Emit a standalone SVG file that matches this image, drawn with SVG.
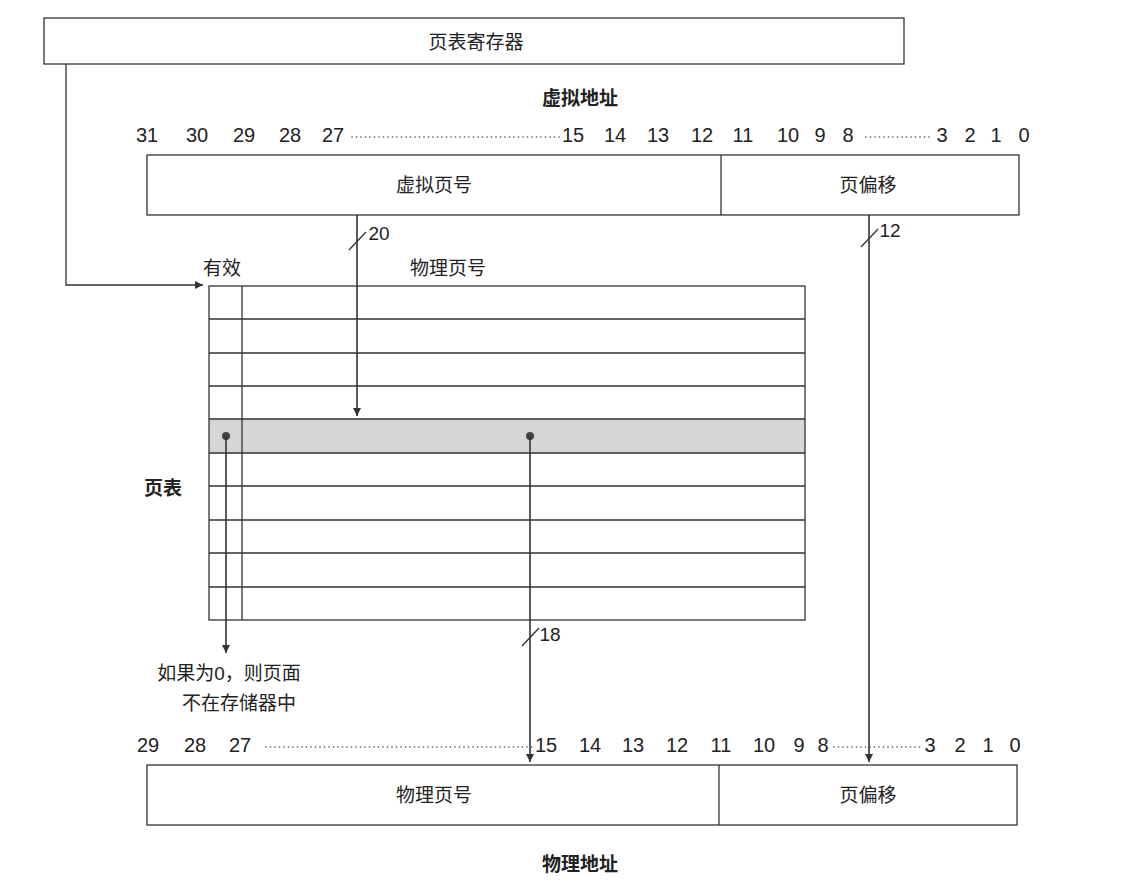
<svg xmlns="http://www.w3.org/2000/svg" width="1128" height="894" viewBox="0 0 1128 894">
<style>
text{font-family:"Liberation Sans","Noto Sans CJK SC",sans-serif;font-size:19px;fill:#222;text-anchor:middle;dominant-baseline:central}
.n{font-size:20px}
.b{font-weight:bold}
.box{fill:#fff;stroke:#333;stroke-width:1.3}
.ln{stroke:#333;stroke-width:1.3;fill:none}
.ar{stroke:#333;stroke-width:1.6;fill:none}
.dot{stroke:#444;stroke-width:1.6;stroke-dasharray:0 4.5;stroke-linecap:round}
</style>
<defs><marker id="ah" markerWidth="10" markerHeight="10" refX="8" refY="4" orient="auto" markerUnits="userSpaceOnUse"><path d="M0,0 L8,4 L0,8 Z" fill="#333"/></marker></defs>
<rect width="1128" height="894" fill="#fff"/>
<g id="ptr"><rect class="box" x="44" y="18" width="860" height="46"/><text x="476" y="42">页表寄存器</text></g>
<text class="b" x="580" y="98">虚拟地址</text>
<g id="vbits" class="n"><text class="n" x="147" y="135">31</text><text class="n" x="197" y="135">30</text><text class="n" x="244" y="135">29</text><text class="n" x="290" y="135">28</text><text class="n" x="333" y="135">27</text>
<line class="dot" x1="352" y1="137" x2="560" y2="137"/>
<text class="n" x="573" y="135">15</text><text class="n" x="615" y="135">14</text><text class="n" x="658" y="135">13</text><text class="n" x="702" y="135">12</text><text class="n" x="743" y="135">11</text><text class="n" x="788" y="135">10</text><text class="n" x="820" y="135">9</text><text class="n" x="848" y="135">8</text>
<line class="dot" x1="866" y1="137" x2="932" y2="137"/>
<text class="n" x="942" y="135">3</text><text class="n" x="970" y="135">2</text><text class="n" x="996" y="135">1</text><text class="n" x="1024" y="135">0</text></g>
<g id="vaddr"><rect class="box" x="147" y="155" width="872" height="60"/><line class="ln" x1="721" y1="155" x2="721" y2="215"/><text x="434" y="185">虚拟页号</text><text x="868" y="185">页偏移</text></g>
<text x="222" y="268">有效</text><text x="448" y="268">物理页号</text>
<text class="b" x="163" y="488">页表</text>
<g id="pagetable">
<rect x="209" y="419" width="596" height="34" fill="#d6d6d6"/>
<rect x="209" y="286" width="596" height="334" style="fill:none;stroke:#333;stroke-width:1.3"/>
<path class="ln" d="M209 319H805M209 353H805M209 386H805M209 419H805M209 453H805M209 486H805M209 520H805M209 553H805M209 587H805M242 286V620"/>
<circle cx="226" cy="436" r="4" fill="#444"/><circle cx="530" cy="436" r="4" fill="#444"/>
</g>
<g id="note"><text x="229" y="673">如果为0，则页面</text><text x="239" y="703">不在存储器中</text></g>
<text x="550" y="634">18</text><text x="379" y="233">20</text><text x="890" y="230">12</text>
<g id="pbits"><text class="n" x="148" y="745">29</text><text class="n" x="195" y="745">28</text><text class="n" x="240" y="745">27</text>
<line class="dot" x1="266" y1="747" x2="534" y2="747"/>
<text class="n" x="546" y="745">15</text><text class="n" x="590" y="745">14</text><text class="n" x="633" y="745">13</text><text class="n" x="677" y="745">12</text><text class="n" x="721" y="745">11</text><text class="n" x="764" y="745">10</text><text class="n" x="799" y="745">9</text><text class="n" x="823" y="745">8</text>
<line class="dot" x1="834" y1="747" x2="920" y2="747"/>
<text class="n" x="930" y="745">3</text><text class="n" x="960" y="745">2</text><text class="n" x="988" y="745">1</text><text class="n" x="1015" y="745">0</text></g>
<g id="paddr"><rect class="box" x="147" y="765" width="870" height="60"/><line class="ln" x1="719" y1="765" x2="719" y2="825"/><text x="434" y="795">物理页号</text><text x="868" y="795">页偏移</text></g>
<text class="b" x="580" y="864">物理地址</text>
<g id="connectors">
<path class="ln" d="M66 64V285H203" marker-end="url(#ah)"/>
<path class="ar" d="M357 215V416" marker-end="url(#ah)"/>
<line class="ln" x1="349" y1="250" x2="366" y2="232"/>
<path class="ar" d="M869 215V762" marker-end="url(#ah)"/>
<line class="ln" x1="861" y1="247" x2="878" y2="229"/>
<path class="ar" d="M226 436V653" marker-end="url(#ah)"/>
<path class="ar" d="M530 436V762" marker-end="url(#ah)"/>
<line class="ln" x1="522" y1="646" x2="539" y2="628"/>
</g>
</svg>
